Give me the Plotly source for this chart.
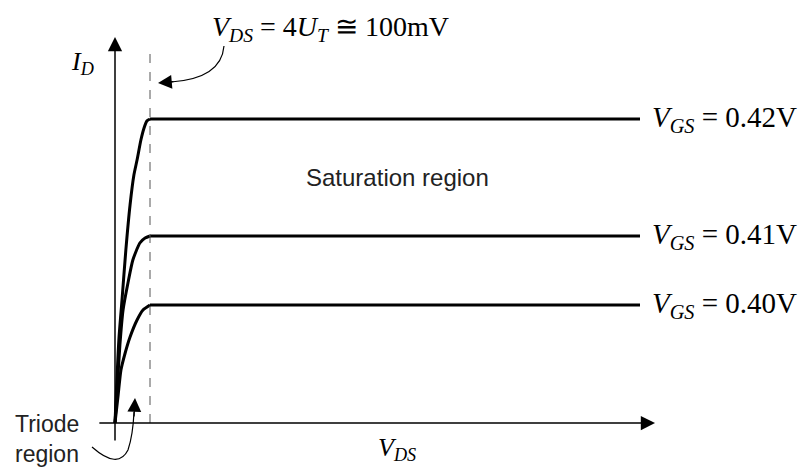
import plotly.graph_objects as go

# Drain-source voltage in mV, drain current in arbitrary units
V_KNEE = 100          # V_DS = 4 U_T
V_END = 1500          # end of the drawn saturation lines

vgs_labels = ["0.42V", "0.41V", "0.40V"]

# Triode-region rise for each gate voltage (V_DS in mV, I_D)
vds_042 = [0, 11, 20, 31, 43, 54, 63, 74, 83, 91, 100]
id_042 = [0.0, 0.83, 1.23, 1.73, 2.18, 2.48, 2.63, 2.83, 2.95, 3.02, 3.04]

vds_041 = [0, 6, 14, 23, 37, 51, 71, 86, 100]
id_041 = [0.0, 0.33, 0.78, 1.13, 1.40, 1.63, 1.80, 1.85, 1.87]

vds_040 = [0, 9, 17, 29, 43, 63, 80, 100]
id_040 = [0.0, 0.28, 0.53, 0.70, 0.86, 1.03, 1.13, 1.18]

curves = [(vds_042, id_042), (vds_041, id_041), (vds_040, id_040)]

SERIF = "Liberation Serif"
SANS = "Liberation Sans"

fig = go.Figure()

for (vx, iy), lab in zip(curves, vgs_labels):
    # triode part
    fig.add_trace(go.Scatter(x=vx, y=iy, mode="lines",
                             line=dict(color="black", width=3, shape="spline", smoothing=0.6),
                             hoverinfo="skip", showlegend=False))
    # saturation part
    fig.add_trace(go.Scatter(x=[vx[-1], V_END], y=[iy[-1], iy[-1]], mode="lines",
                             line=dict(color="black", width=3),
                             hoverinfo="skip", showlegend=False))
    fig.add_annotation(x=V_END + 28, y=iy[-1], xref="x", yref="y",
                       text=f"<i>V<sub>GS</sub></i> = {lab}", showarrow=False,
                       xanchor="left", yanchor="middle",
                       font=dict(family=SERIF, size=29, color="black"))

# knee line at V_DS = 4 U_T
fig.add_trace(go.Scatter(x=[V_KNEE, V_KNEE], y=[0, 3.70], mode="lines",
                         line=dict(color="#555555", width=1, dash="dash"),
                         hoverinfo="skip", showlegend=False))

# axes with arrowheads
axis_arrow = dict(xref="x", yref="y", axref="x", ayref="y", text="", showarrow=True,
                  arrowhead=2, arrowsize=1.9, arrowwidth=1.5, arrowcolor="black", standoff=0)
fig.add_annotation(x=1543, y=0, ax=-49, ay=0, **axis_arrow)
fig.add_annotation(x=0, y=3.86, ax=0, ay=-0.19, **axis_arrow)

# curved pointer to the knee line
fig.add_shape(type="path", xref="x", yref="y",
              path="M 311.4,3.77 C 305.7,3.53 242.9,3.43 160,3.41",
              line=dict(color="black", width=1.2))
fig.add_annotation(x=122.9, y=3.40, ax=171.4, ay=3.415, xref="x", yref="y", axref="x", ayref="y",
                   text="", showarrow=True, arrowhead=2, arrowsize=2.3, arrowwidth=1.2,
                   arrowcolor="black", standoff=0)

# curved pointer to the triode region
fig.add_shape(type="path", xref="x", yref="y",
              path="M -65.7,-0.24 Q 8.6,-0.47 37.1,-0.27 Q 51.4,-0.12 54.3,0.11",
              line=dict(color="black", width=1.2))
fig.add_annotation(x=57.1, y=0.25, ax=54.3, ay=0.05, xref="x", yref="y", axref="x", ayref="y",
                   text="", showarrow=True, arrowhead=2, arrowsize=2.3, arrowwidth=1.2,
                   arrowcolor="black", standoff=0)

# text labels
fig.add_annotation(x=-94, y=3.60, text="<i>I<sub>D</sub></i>", showarrow=False,
                   font=dict(family=SERIF, size=26, color="black"))
fig.add_annotation(x=271, y=3.95, xanchor="left", yanchor="middle",
                   text="<i>V<sub>DS</sub></i> = 4<i>U<sub>T</sub></i> \u2245 100mV", showarrow=False,
                   font=dict(family=SERIF, size=28, color="black"))
fig.add_annotation(x=806, y=2.46, text="Saturation region", showarrow=False,
                   font=dict(family=SANS, size=24, color="#222222"))
fig.add_annotation(x=806, y=-0.26, text="<i>V<sub>DS</sub></i>", showarrow=False,
                   font=dict(family=SERIF, size=26, color="black"))
fig.add_annotation(x=-291, y=-0.16, xanchor="left", yanchor="middle", align="left",
                   text="Triode<br>region", showarrow=False,
                   font=dict(family=SANS, size=23, color="#222222"))

fig.update_xaxes(range=[-328.57, 1960], visible=False, fixedrange=True)
fig.update_yaxes(range=[-0.45, 4.23], visible=False, fixedrange=True)
fig.update_layout(width=801, height=468, margin=dict(l=0, r=0, t=0, b=0),
                  plot_bgcolor="white", paper_bgcolor="white", showlegend=False)

fig.write_html("out.html")
